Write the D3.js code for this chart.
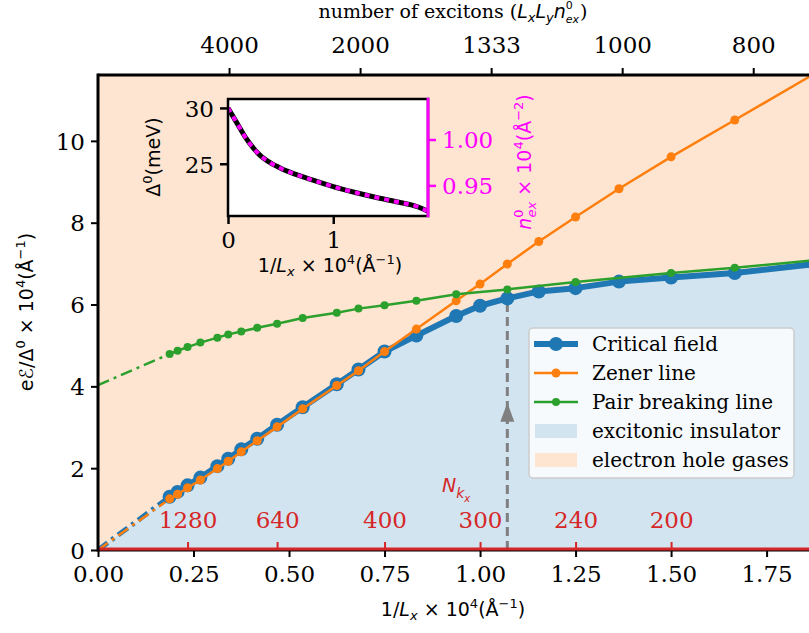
<!DOCTYPE html>
<html>
<head>
<meta charset="utf-8">
<script src="https://cdn.jsdelivr.net/npm/d3@7"></script>
<style>
  body { margin: 0; background: #fff; }
  svg { display: block; }
  text { font-family: "DejaVu Serif", serif; }
  .math { font-family: "DejaVu Sans", sans-serif; }
</style>
</head>
<body>
<svg id="chart" width="809" height="633"></svg>
<script>
// ---- main panel data: 1/Lx (x 10^4 1/Å) for each Nkx ----
const criticalX = [0.1875, 0.2083, 0.2344, 0.2679, 0.3125, 0.3409, 0.375, 0.4167, 0.4688, 0.5357,
                   0.625, 0.6818, 0.75, 0.8333, 0.9375, 1.0, 1.0714, 1.1538, 1.25, 1.3636, 1.5, 1.6667, 1.875];
const criticalField = [1.30, 1.42, 1.58, 1.77, 2.05, 2.23, 2.46, 2.72, 3.06, 3.49,
                       4.05, 4.41, 4.85, 5.24, 5.72, 5.97, 6.15, 6.32, 6.40, 6.56, 6.66, 6.77, 6.99];
const zenerLine = [1.25, 1.36, 1.52, 1.71, 1.99, 2.17, 2.40, 2.67, 3.01, 3.45,
                   4.02, 4.38, 4.85, 5.40, 6.09, 6.50, 6.99, 7.54, 8.14, 8.83, 9.61, 10.51, 11.64];
const pairX = [0.1875, 0.2083, 0.2344, 0.2679, 0.3125, 0.3409, 0.375, 0.4167, 0.4688, 0.5357,
               0.625, 0.6818, 0.75, 0.8333, 0.9375, 1.0714, 1.25, 1.5, 1.6667, 1.875];
const pairBreaking = [4.79, 4.87, 4.96, 5.07, 5.19, 5.27, 5.34, 5.43, 5.53, 5.67,
                      5.80, 5.90, 5.98, 6.09, 6.25, 6.37, 6.55, 6.77, 6.90, 7.08];
const pairIntercept = 4.03;

// bottom (red) Nkx ticks and top exciton-number ticks
const nkxLabels = ["1280", "640", "400", "300", "240", "200"];
const nkxPos = [0.2344, 0.4688, 0.75, 1.0, 1.25, 1.5];
const excitonLabels = ["4000", "2000", "1333", "1000", "800"];
const excitonPos = [0.343, 0.686, 1.029, 1.372, 1.715];
const xTicks = [0, 0.25, 0.5, 0.75, 1.0, 1.25, 1.5, 1.75];
const yTicks = [0, 2, 4, 6, 8, 10];
const markedX = 1.0714;   // Nkx = 280
const markedArrowTip = 3.6;

// ---- inset data ----
const insetX = [0, 0.05, 0.1, 0.15, 0.2, 0.3, 0.4, 0.5, 0.6, 0.8, 1.0, 1.2, 1.4, 1.6, 1.8, 1.9];
const gapMeV = [30.0, 29.2, 28.4, 27.6, 26.9, 25.8, 25.1, 24.6, 24.2, 23.55, 22.95, 22.45, 22.0, 21.6, 21.15, 20.75];
const density = [1.0345, 1.0247, 1.0150, 1.0052, 0.9967, 0.9833, 0.9748, 0.9687, 0.9638, 0.9559,
                 0.9486, 0.9425, 0.9371, 0.9322, 0.9267, 0.9218];
const insetYTicks = [25, 30];
const insetY2Ticks = [0.95, 1.00];
const insetXTicks = [0, 1];

// ---- colours ----
const C_BLUE = "#1f77b4", C_ORANGE = "#ff7f0e", C_GREEN = "#2ca02c", C_RED = "#d62728";
const FILL_BLUE = "#d2e4f0", FILL_ORANGE = "#fee5d1", MAGENTA = "#ff00ff";

const svg = d3.select("#chart");
const L = 98, R = 809, T = 75, B = 550;
const x = d3.scaleLinear([0, 1.861], [L, R]);
const y = d3.scaleLinear([0, 11.61], [B, T]);

svg.append("defs").append("clipPath").attr("id", "plotClip")
  .append("rect").attr("x", L).attr("y", T).attr("width", R - L).attr("height", B - T);

const plot = svg.append("g").attr("clip-path", "url(#plotClip)");

// regions
plot.append("rect").attr("x", L).attr("y", T).attr("width", R - L).attr("height", B - T).attr("fill", FILL_ORANGE);
const critPts = criticalX.map((d, i) => [d, criticalField[i]]);
plot.append("path")
  .datum([[0, 0], ...critPts])
  .attr("fill", FILL_BLUE)
  .attr("d", d3.area().x(d => x(d[0])).y0(y(0)).y1(d => y(d[1])));

const line = d3.line().x(d => x(d[0])).y(d => y(d[1]));

// marked system size: dashed guide with arrow
const markedY = criticalField[criticalX.indexOf(markedX)];
plot.append("line").attr("x1", x(markedX)).attr("x2", x(markedX))
  .attr("y1", y(0)).attr("y2", y(markedY))
  .attr("stroke", "#7f7f7f").attr("stroke-width", 3).attr("stroke-dasharray", "9,5");
plot.append("path")
  .attr("d", `M${x(markedX)},${y(markedArrowTip)} l-7,19 l14,0 Z`)
  .attr("fill", "#7f7f7f");

// extrapolations to 1/Lx = 0
plot.append("path").datum([[0, 0], critPts[0]]).attr("d", line)
  .attr("fill", "none").attr("stroke", C_BLUE).attr("stroke-width", 5).attr("stroke-dasharray", "12,5,3,5");
const zenPts = criticalX.map((d, i) => [d, zenerLine[i]]);
plot.append("path").datum([[0, 0], zenPts[0]]).attr("d", line)
  .attr("fill", "none").attr("stroke", C_ORANGE).attr("stroke-width", 2.5).attr("stroke-dasharray", "12,5,3,5");
const pairPts = pairX.map((d, i) => [d, pairBreaking[i]]);
plot.append("path").datum([[0, pairIntercept], pairPts[0]]).attr("d", line)
  .attr("fill", "none").attr("stroke", C_GREEN).attr("stroke-width", 2.5).attr("stroke-dasharray", "12,5,3,5");

// critical field
plot.append("path").datum(critPts).attr("d", line)
  .attr("fill", "none").attr("stroke", C_BLUE).attr("stroke-width", 6).attr("stroke-linejoin", "round");
plot.selectAll(".crit").data(critPts).join("circle")
  .attr("cx", d => x(d[0])).attr("cy", d => y(d[1])).attr("r", 7).attr("fill", C_BLUE);

// Zener line
plot.append("path").datum(zenPts).attr("d", line)
  .attr("fill", "none").attr("stroke", C_ORANGE).attr("stroke-width", 2.5);
plot.selectAll(".zen").data(zenPts).join("circle")
  .attr("cx", d => x(d[0])).attr("cy", d => y(d[1])).attr("r", 4.5).attr("fill", C_ORANGE);

// pair breaking line
plot.append("path").datum(pairPts).attr("d", line)
  .attr("fill", "none").attr("stroke", C_GREEN).attr("stroke-width", 2.5);
plot.selectAll(".pair").data(pairPts).join("circle")
  .attr("cx", d => x(d[0])).attr("cy", d => y(d[1])).attr("r", 4).attr("fill", C_GREEN);

// ---- axes ----
function styleAxis(g, color) {
  g.select(".domain").remove();
  g.selectAll(".tick line").attr("stroke", color || "#000").attr("stroke-width", 2);
  g.selectAll(".tick text").attr("font-family", "DejaVu Serif").attr("font-size", 23).attr("fill", color || "#000");
}
const xAxisG = svg.append("g").attr("transform", `translate(0,${B})`)
  .call(d3.axisBottom(x).tickValues(xTicks).tickFormat(d3.format(".2f")).tickSizeOuter(0).tickSize(7).tickPadding(9));
styleAxis(xAxisG);
const yAxisG = svg.append("g").attr("transform", `translate(${L},0)`)
  .call(d3.axisLeft(y).tickValues(yTicks).tickFormat(d3.format("d")).tickSizeOuter(0).tickSize(7).tickPadding(6));
styleAxis(yAxisG);
yAxisG.selectAll(".tick text").attr("dy", "0.36em");
const topAxisG = svg.append("g").attr("transform", `translate(0,${T})`)
  .call(d3.axisTop(x).tickValues(excitonPos).tickFormat((d, i) => excitonLabels[i]).tickSizeOuter(0).tickSize(7).tickPadding(15));
styleAxis(topAxisG);

// red Nkx axis along the bottom
svg.append("line").attr("x1", L).attr("x2", R).attr("y1", B).attr("y2", B)
  .attr("stroke", "#000").attr("stroke-width", 3);
svg.append("line").attr("x1", L).attr("x2", R).attr("y1", B - 1).attr("y2", B - 1)
  .attr("stroke", C_RED).attr("stroke-width", 3);
const nkxG = svg.append("g").attr("transform", `translate(0,${B})`)
  .call(d3.axisTop(x).tickValues(nkxPos).tickFormat((d, i) => nkxLabels[i]).tickSizeOuter(0).tickSize(8).tickPadding(14));
styleAxis(nkxG, C_RED);

// frame
svg.append("line").attr("x1", L).attr("x2", L).attr("y1", T - 1.5).attr("y2", B + 1.5).attr("stroke", "#000").attr("stroke-width", 3);
svg.append("line").attr("x1", L).attr("x2", R).attr("y1", T).attr("y2", T).attr("stroke", "#000").attr("stroke-width", 3);

// Nkx label
const nk = svg.append("text").attr("class", "math").attr("x", 442).attr("y", 492)
  .attr("fill", C_RED).attr("font-size", 19).attr("font-style", "italic");
nk.append("tspan").text("N");
nk.append("tspan").attr("font-size", 14).attr("dy", 6).text("k");
nk.append("tspan").attr("font-size", 10).attr("dy", 4).text("x");

// axis titles
const xl = svg.append("text").attr("class", "math").attr("x", 453).attr("y", 616)
  .attr("text-anchor", "middle").attr("font-size", 19);
xl.append("tspan").text("1/");
xl.append("tspan").attr("font-style", "italic").text("L");
xl.append("tspan").attr("font-style", "italic").attr("font-size", 13).attr("dy", 4).text("x");
xl.append("tspan").attr("dy", -4).text(" × 10");
xl.append("tspan").attr("font-size", 13).attr("dy", -8).text("4");
xl.append("tspan").attr("dy", 8).text("(Å");
xl.append("tspan").attr("font-size", 13).attr("dy", -8).text("−1");
xl.append("tspan").attr("dy", 8).text(")");

const yl = svg.append("text").attr("class", "math")
  .attr("transform", "translate(33,312) rotate(-90)")
  .attr("text-anchor", "middle").attr("font-size", 19);
yl.append("tspan").text("e");
yl.append("tspan").attr("font-style", "italic").text("ℰ");
yl.append("tspan").text("/Δ");
yl.append("tspan").attr("font-size", 13).attr("dy", -8).text("0");
yl.append("tspan").attr("dy", 8).text(" × 10");
yl.append("tspan").attr("font-size", 13).attr("dy", -8).text("4");
yl.append("tspan").attr("dy", 8).text("(Å");
yl.append("tspan").attr("font-size", 13).attr("dy", -8).text("−1");
yl.append("tspan").attr("dy", 8).text(")");

const tl = svg.append("text").attr("x", 453).attr("y", 18).attr("text-anchor", "middle").attr("font-size", 19);
tl.append("tspan").text("number of excitons (");
tl.append("tspan").attr("class", "math").attr("font-style", "italic").text("L");
tl.append("tspan").attr("class", "math").attr("font-style", "italic").attr("font-size", 13).attr("dy", 4).text("x");
tl.append("tspan").attr("class", "math").attr("font-style", "italic").attr("dy", -4).text("L");
tl.append("tspan").attr("class", "math").attr("font-style", "italic").attr("font-size", 13).attr("dy", 4).text("y");
tl.append("tspan").attr("class", "math").attr("font-style", "italic").attr("dy", -4).text("n");
tl.append("tspan").attr("class", "math").attr("font-size", 11).attr("dy", -9).text("0");
tl.append("tspan").attr("class", "math").attr("font-style", "italic").attr("font-size", 11).attr("dx", -7).attr("dy", 14).text("ex");
tl.append("tspan").attr("dx", 1).attr("dy", -5).text(")");

// ---- legend ----
const lg = svg.append("g");
lg.append("rect").attr("x", 529).attr("y", 328).attr("width", 265).attr("height", 150).attr("rx", 4)
  .attr("fill", "rgba(255,255,255,0.8)").attr("stroke", "#cccccc").attr("stroke-width", 1.5);
const legendItems = [
  { label: "Critical field", type: "line", color: C_BLUE, w: 6, r: 7 },
  { label: "Zener line", type: "line", color: C_ORANGE, w: 2.5, r: 4.5 },
  { label: "Pair breaking line", type: "line", color: C_GREEN, w: 2.5, r: 4 },
  { label: "excitonic insulator", type: "patch", color: FILL_BLUE },
  { label: "electron hole gases", type: "patch", color: FILL_ORANGE }
];
legendItems.forEach((it, i) => {
  const cy = 344 + i * 29;
  if (it.type === "line") {
    lg.append("line").attr("x1", 534).attr("x2", 578).attr("y1", cy).attr("y2", cy)
      .attr("stroke", it.color).attr("stroke-width", it.w);
    lg.append("circle").attr("cx", 556).attr("cy", cy).attr("r", it.r).attr("fill", it.color);
  } else {
    lg.append("rect").attr("x", 535).attr("y", cy - 7).attr("width", 42).attr("height", 14).attr("fill", it.color);
  }
  lg.append("text").attr("x", 592).attr("y", cy).attr("dy", "0.35em").attr("font-size", 20).text(it.label);
});

// ---- inset ----
const iL = 228, iR = 428, iT = 99, iB = 216;
const ix = d3.scaleLinear([0, 1.9], [iL, iR]);
const iy = d3.scaleLinear([20.32, 30.8], [iB, iT]);
const iy2 = d3.scaleLinear([0.9166, 1.0442], [iB, iT]);
const inset = svg.append("g");
inset.append("rect").attr("x", iL).attr("y", iT).attr("width", iR - iL).attr("height", iB - iT).attr("fill", "#fff");
inset.append("defs").append("clipPath").attr("id", "insetClip")
  .append("rect").attr("x", iL).attr("y", iT - 3).attr("width", iR - iL + 2).attr("height", iB - iT + 4);
const ic = inset.append("g").attr("clip-path", "url(#insetClip)");
ic.append("path").datum(insetX.map((d, i) => [d, gapMeV[i]]))
  .attr("d", d3.line().x(d => ix(d[0])).y(d => iy(d[1])).curve(d3.curveMonotoneX))
  .attr("fill", "none").attr("stroke", "#000").attr("stroke-width", 5);
ic.append("path").datum(insetX.map((d, i) => [d, density[i]]))
  .attr("d", d3.line().x(d => ix(d[0])).y(d => iy2(d[1])).curve(d3.curveMonotoneX))
  .attr("fill", "none").attr("stroke", MAGENTA).attr("stroke-width", 4).attr("stroke-dasharray", "5,5");

function styleInset(g, color) {
  g.select(".domain").remove();
  g.selectAll(".tick line").attr("stroke", color).attr("stroke-width", 2.5);
  g.selectAll(".tick text").attr("font-family", "DejaVu Serif").attr("font-size", 23).attr("fill", color);
}
const ixg = inset.append("g").attr("transform", `translate(0,${iB})`)
  .call(d3.axisBottom(ix).tickValues(insetXTicks).tickFormat(d3.format("d")).tickSize(8).tickPadding(8));
styleInset(ixg, "#000");
const iyg = inset.append("g").attr("transform", `translate(${iL},0)`)
  .call(d3.axisLeft(iy).tickValues(insetYTicks).tickFormat(d3.format("d")).tickSize(8).tickPadding(6));
styleInset(iyg, "#000");
iyg.selectAll(".tick text").attr("dy", "0.36em");
const iy2g = inset.append("g").attr("transform", `translate(${iR},0)`)
  .call(d3.axisRight(iy2).tickValues(insetY2Ticks).tickFormat(d3.format(".2f")).tickSize(8).tickPadding(6));
styleInset(iy2g, MAGENTA);
iy2g.selectAll(".tick text").attr("dy", "0.36em");

inset.append("rect").attr("x", iL).attr("y", iT).attr("width", iR - iL).attr("height", iB - iT)
  .attr("fill", "none").attr("stroke", "#000").attr("stroke-width", 2.5);
inset.append("line").attr("x1", iR).attr("x2", iR).attr("y1", iT - 1.25).attr("y2", iB + 1.25)
  .attr("stroke", MAGENTA).attr("stroke-width", 3);

const ixl = inset.append("text").attr("class", "math").attr("x", 330).attr("y", 272)
  .attr("text-anchor", "middle").attr("font-size", 19);
ixl.append("tspan").text("1/");
ixl.append("tspan").attr("font-style", "italic").text("L");
ixl.append("tspan").attr("font-style", "italic").attr("font-size", 13).attr("dy", 4).text("x");
ixl.append("tspan").attr("dy", -4).text(" × 10");
ixl.append("tspan").attr("font-size", 13).attr("dy", -8).text("4");
ixl.append("tspan").attr("dy", 8).text("(Å");
ixl.append("tspan").attr("font-size", 13).attr("dy", -8).text("−1");
ixl.append("tspan").attr("dy", 8).text(")");

const iyl = inset.append("text").attr("class", "math")
  .attr("transform", "translate(160,157) rotate(-90)").attr("text-anchor", "middle").attr("font-size", 19);
iyl.append("tspan").text("Δ");
iyl.append("tspan").attr("font-size", 13).attr("dy", -8).text("0");
iyl.append("tspan").attr("dy", 8).text("(meV)");

const iy2l = inset.append("text").attr("class", "math")
  .attr("transform", "translate(531,162) rotate(-90)").attr("text-anchor", "middle")
  .attr("font-size", 19).attr("fill", MAGENTA);
iy2l.append("tspan").attr("font-style", "italic").text("n");
iy2l.append("tspan").attr("font-size", 13).attr("dy", -8).text("0");
iy2l.append("tspan").attr("font-style", "italic").attr("font-size", 13).attr("dx", -8).attr("dy", 13).text("ex");
iy2l.append("tspan").attr("dy", -5).text(" × 10");
iy2l.append("tspan").attr("font-size", 13).attr("dy", -8).text("4");
iy2l.append("tspan").attr("dy", 8).text("(Å");
iy2l.append("tspan").attr("font-size", 13).attr("dy", -8).text("−2");
iy2l.append("tspan").attr("dy", 8).text(")");
</script>
</body>
</html>
